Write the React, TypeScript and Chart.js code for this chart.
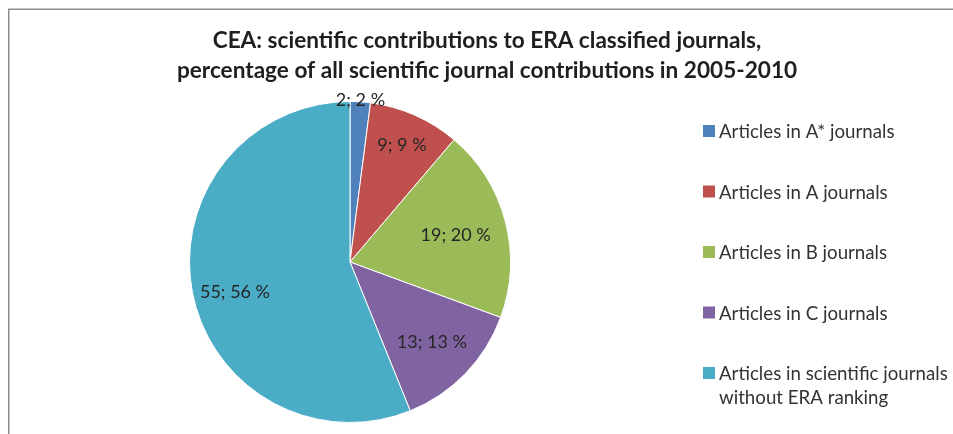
import React, { useEffect, useRef } from "react";
import { Chart, registerables } from "chart.js";

Chart.register(...registerables);

const categories = [
  "Articles in A* journals",
  "Articles in A journals",
  "Articles in B journals",
  "Articles in C journals",
  "Articles in scientific journals without ERA ranking",
];
const values = [2, 9, 19, 13, 55];
const percentLabels = ["2 %", "9 %", "20 %", "13 %", "56 %"];
const colors = ["#4F81BD", "#C0504D", "#9BBB59", "#8064A2", "#4BACC6"];
const titleLines = [
  "CEA: scientific contributions to ERA classified journals,",
  "percentage of all scientific journal contributions in 2005-2010",
];

// layout constants (not data)
const W = 953;
const H = 434;
const FONT = "Lato, 'Open Sans', sans-serif";
const TITLE_SIZE = 22.6;
const LABEL_SIZE = 18;
const LEGEND_SIZE = 18.7;
const labelRadius = [1.015, 0.8, 0.68, 0.71, 0.74];
const labelAngleShift = [0, 0, 0, 0, -0.06];

const overlay = {
  id: "overlay",
  beforeDraw(chart: any) {
    const ctx = chart.ctx;
    ctx.save();
    ctx.fillStyle = "#ffffff";
    ctx.fillRect(0, 0, W, H);
    ctx.strokeStyle = "#8c8c8c";
    ctx.lineWidth = 1.5;
    ctx.beginPath();
    ctx.moveTo(8.75, H + 5);
    ctx.lineTo(8.75, 9.25);
    ctx.lineTo(W + 5, 9.25);
    ctx.stroke();
    ctx.restore();
  },
  afterDraw(chart: any) {
    const ctx = chart.ctx;
    ctx.save();
    // title
    ctx.fillStyle = "#1f1f1f";
    ctx.font = `bold ${TITLE_SIZE}px ${FONT}`;
    ctx.textAlign = "center";
    ctx.textBaseline = "alphabetic";
    ctx.fillText(titleLines[0], 487, 48);
    ctx.fillText(titleLines[1], 487, 78);

    // data labels
    const meta = chart.getDatasetMeta(0);
    ctx.font = `${LABEL_SIZE}px ${FONT}`;
    ctx.fillStyle = "#262626";
    ctx.textBaseline = "middle";
    ctx.textAlign = "center";
    meta.data.forEach((arc: any, i: number) => {
      const p = arc.getProps(["x", "y", "startAngle", "endAngle", "outerRadius"], true);
      const mid = (p.startAngle + p.endAngle) / 2 + labelAngleShift[i];
      const r = p.outerRadius * labelRadius[i];
      const x = p.x + Math.cos(mid) * r;
      const y = p.y + Math.sin(mid) * r;
      ctx.fillText(`${values[i]}; ${percentLabels[i]}`, x, y + 1);
    });

    // legend
    ctx.font = `${LEGEND_SIZE}px ${FONT}`;
    ctx.textAlign = "left";
    ctx.textBaseline = "middle";
    const maxW = 232;
    categories.forEach((cat, i) => {
      const cy = 131 + i * 60.5;
      ctx.fillStyle = colors[i];
      ctx.fillRect(703, cy - 6, 12, 12);
      const words = cat.split(" ");
      const lines: string[] = [];
      let cur = "";
      words.forEach((w) => {
        const t = cur ? cur + " " + w : w;
        if (ctx.measureText(t).width > maxW && cur) {
          lines.push(cur);
          cur = w;
        } else cur = t;
      });
      if (cur) lines.push(cur);
      ctx.fillStyle = "#333333";
      lines.forEach((ln, j) => ctx.fillText(ln, 719, cy + 1 + j * 24));
    });
    ctx.restore();
  },
};

export default function App() {
  const ref = useRef<HTMLCanvasElement>(null);
  useEffect(() => {
    if (!ref.current) return;
    const chart = new Chart(ref.current, {
      type: "pie",
      data: {
        labels: categories,
        datasets: [
          {
            data: values,
            backgroundColor: colors,
            borderColor: "#ffffff",
            borderWidth: 1,
          },
        ],
      },
      options: {
        responsive: false,
        animation: false,
        layout: { padding: { left: 189, top: 101, right: 442, bottom: 11 } },
        plugins: {
          legend: { display: false },
          title: { display: false },
          tooltip: { enabled: false },
        },
      },
      plugins: [overlay],
    });
    return () => chart.destroy();
  }, []);
  return (
    <div style={{ position: "absolute", left: 0, top: 0, width: W, height: H }}>
      <canvas ref={ref} width={W} height={H} style={{ width: W, height: H, display: "block" }} />
    </div>
  );
}
